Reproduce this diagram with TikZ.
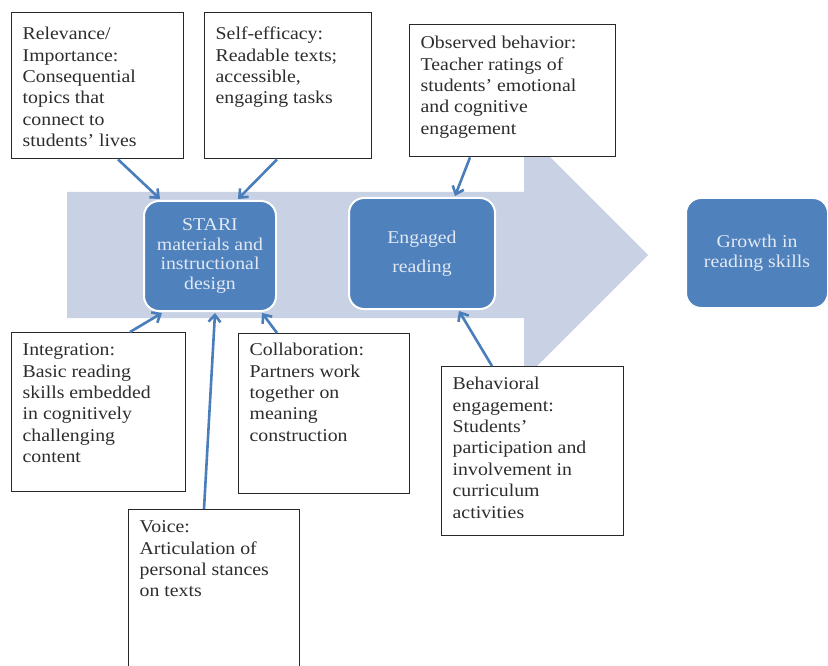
\documentclass[tikz,border=0pt]{standalone}
\usepackage{fontspec}
\setmainfont[FakeStretch=1.1]{Liberation Serif}
\usetikzlibrary{arrows.meta}
\definecolor{shaftcol}{RGB}{200,210,228}
\definecolor{bluefill}{RGB}{79,129,189}
\definecolor{linkblue}{RGB}{74,126,187}
\definecolor{boxline}{RGB}{40,40,40}
\definecolor{boxtext}{RGB}{226,233,243}
\definecolor{darktext}{RGB}{45,45,45}
\newcommand{\tbx}[4]{\parbox[t][#2][t]{#1}{\raggedright\rule{0pt}{#3}#4}}
\tikzset{
  tbox/.style={draw=boxline, line width=1.4pt, fill=white, anchor=north west,
    inner xsep=11pt, inner ysep=0pt, text=darktext,
    font=\fontsize{18}{21.4}\selectfont},
  bluebox/.style={fill=bluefill, draw=white, line width=2pt, rounded corners=15pt,
    anchor=north west, text=boxtext, align=center, inner sep=0pt,
    font=\fontsize{18}{19.8}\selectfont},
  link/.style={draw=linkblue, line width=2.6pt, -{Straight Barb[length=7pt,width=12pt]}},
}
\begin{document}
\begin{tikzpicture}[x=1pt,y=-1pt]
\useasboundingbox (0,0) rectangle (828,666);
% big background arrow
\fill[shaftcol] (67,192) -- (524,192) -- (524,131) -- (648,255) -- (524,379)
  -- (524,318) -- (67,318) -- cycle;
% blue process boxes
\node[bluebox, minimum width=132pt, minimum height=110pt] (stari) at (143,200)
  {STARI\\materials and\\instructional\\design};
\node[bluebox, minimum width=146pt, minimum height=111pt,
  font=\fontsize{18}{29}\selectfont] (eng) at (348,197) {Engaged\\reading};
\node[bluebox, minimum width=142pt, minimum height=110pt] (growth) at (685,197)
  {Growth in\\reading skills};
% text boxes
\node[tbox] (rel) at (11,12) {\tbx{150pt}{146pt}{27pt}{Relevance/\\Importance:\\Consequential\\topics that\\connect to\\students' lives}};
\node[tbox] (self) at (204,12) {\tbx{145pt}{146pt}{27pt}{Self-efficacy:\\Readable texts;\\accessible,\\engaging tasks}};
\node[tbox] (obs) at (409,24) {\tbx{184pt}{132pt}{24pt}{Observed behavior:\\Teacher ratings of\\students' emotional\\and cognitive\\engagement}};
\node[tbox] (integ) at (11,332) {\tbx{152pt}{159pt}{23pt}{Integration:\\Basic reading\\skills embedded\\in cognitively\\challenging\\content}};
\node[tbox] (collab) at (238,333) {\tbx{149pt}{160pt}{22pt}{Collaboration:\\Partners work\\together on\\meaning\\construction}};
\node[tbox] (voice) at (128,509) {\tbx{149pt}{168pt}{23pt}{Voice:\\Articulation of\\personal stances\\on texts}};
\node[tbox] (behav) at (441,366) {\tbx{160pt}{169pt}{23pt}{Behavioral\\engagement:\\Students'\\participation and\\involvement in\\curriculum\\activities}};
% connectors
\draw[link] ([xshift=107pt]rel.south west) -- ([xshift=17pt,yshift=1pt]stari.north west);
\draw[link] ([xshift=73pt]self.south west) -- ([xshift=95pt,yshift=1pt]stari.north west);
\draw[link] ([xshift=61pt]obs.south west) -- ([xshift=107pt,yshift=1pt]eng.north west);
\draw[link] ([xshift=119pt]integ.north west) -- ([xshift=19pt,yshift=-1pt]stari.south west);
\draw[link] ([xshift=76pt]voice.north west) -- ([xshift=72pt,yshift=-1pt]stari.south west);
\draw[link] ([xshift=39pt]collab.north west) -- ([xshift=119pt,yshift=-1pt]stari.south west);
\draw[link] ([xshift=51pt]behav.north west) -- ([xshift=111pt,yshift=-1pt]eng.south west);
\end{tikzpicture}
\end{document}
